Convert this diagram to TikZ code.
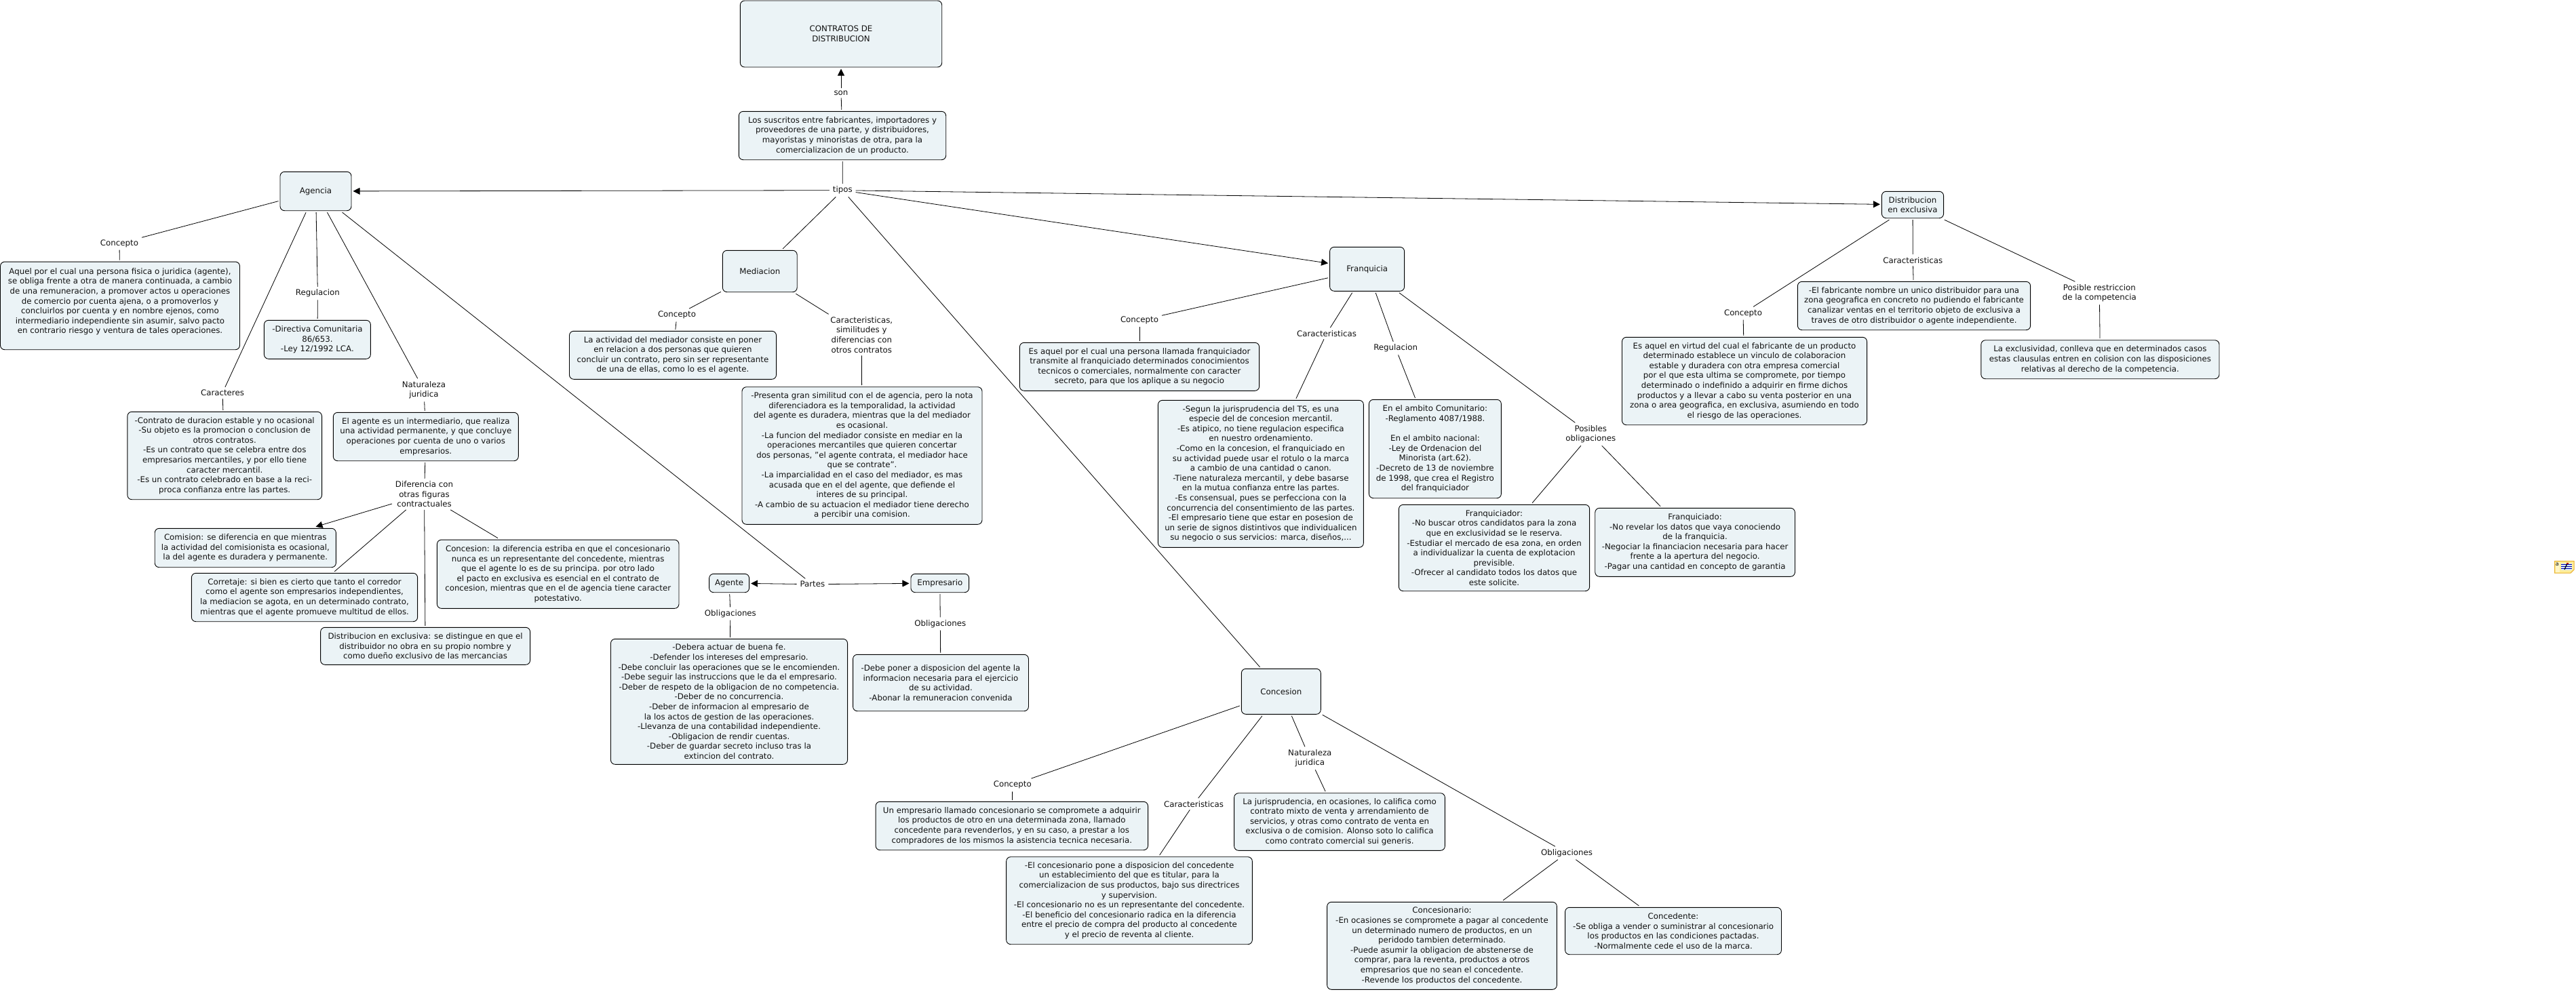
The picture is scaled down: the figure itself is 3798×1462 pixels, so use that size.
\documentclass[tikz,border=0pt]{standalone}
\usepackage{fontspec}
\setmainfont{DejaVu Sans}
\usetikzlibrary{arrows.meta}
\definecolor{boxfill}{HTML}{EBF3F6}
\definecolor{txt}{HTML}{111111}
\definecolor{notefill}{HTML}{FFEE99}
\definecolor{noteedge}{HTML}{E8B030}
\definecolor{notepale}{HTML}{FFF6C8}
\definecolor{notepage}{HTML}{D8E8F4}
\tikzset{
  box/.style={draw=black,line width=0.9pt,fill=boxfill,rounded corners=6.5pt,align=center,inner sep=0pt,outer sep=2.5pt,text=txt,font=\fontsize{11.8}{14.6}\selectfont},
  lbl/.style={align=center,inner xsep=5pt,inner ysep=4pt,outer sep=0pt,text=txt,font=\fontsize{11.8}{14.6}\selectfont},
  con/.style={line width=0.8pt},
  arr/.style={line width=0.8pt,-{Triangle[length=10pt,width=10pt]}}
}
\begin{document}
\begin{tikzpicture}[x=1pt,y=-1pt]
\useasboundingbox (0,0) rectangle (3798,1462);
% boxes
\node[box,minimum width=297.4pt,minimum height=98pt] (title) at (1240,50) {CONTRATOS DE\\DISTRIBUCION};
\node[box,minimum width=305.4pt,minimum height=71.4pt] (intro) at (1242,200) {Los suscritos entre fabricantes, importadores y\\proveedores de una parte, y distribuidores,\\mayoristas y minoristas de otra, para la\\comercializacion de un producto.};
\node[box,minimum width=105pt,minimum height=57.4pt] (agencia) at (465.5,282) {Agencia};
\node[box,minimum width=353pt,minimum height=129.7pt] (agconc) at (177,450.9) {Aquel por el cual una persona fisica o juridica (agente),\\se obliga frente a otra de manera continuada, a cambio\\de una remuneracion, a promover actos u operaciones\\de comercio por cuenta ajena, o a promoverlos y\\concluirlos por cuenta y en nombre ejenos, como\\intermediario independiente sin asumir, salvo pacto\\en contrario riesgo y ventura de tales operaciones.\\~};
\node[box,minimum width=157pt,minimum height=57pt] (agreg) at (467.9,500.8) {-Directiva Comunitaria\\86/653.\\-Ley 12/1992 LCA.};
\node[box,minimum width=286.7pt,minimum height=129.4pt] (agcar) at (331.2,672) {-Contrato de duracion estable y no ocasional\\-Su objeto es la promocion o conclusion de\\otros contratos.\\-Es un contrato que se celebra entre dos\\empresarios mercantiles, y por ello tiene\\caracter mercantil.\\-Es un contrato celebrado en base a la reci-\\proca confianza entre las partes.};
\node[box,minimum width=273pt,minimum height=71.4pt] (agnat) at (627.8,644) {El agente es un intermediario, que realiza\\una actividad permanente, y que concluye\\operaciones por cuenta de uno o varios\\empresarios.};
\node[box,minimum width=267.2pt,minimum height=57.4pt] (comision) at (361.8,808) {Comision: se diferencia en que mientras\\la actividad del comisionista es ocasional,\\la del agente es duradera y permanente.};
\node[box,minimum width=333.3pt,minimum height=71.4pt] (corretaje) at (449,881) {Corretaje: si bien es cierto que tanto el corredor\\como el agente son empresarios independientes,\\la mediacion se agota, en un determinado contrato,\\mientras que el agente promueve multitud de ellos.};
\node[box,minimum width=356.6pt,minimum height=101.3pt] (concdiff) at (822.7,846.7) {Concesion: la diferencia estriba en que el concesionario\\nunca es un representante del concedente, mientras\\que el agente lo es de su principa. por otro lado\\el pacto en exclusiva es esencial en el contrato de\\concesion, mientras que en el de agencia tiene caracter\\potestativo.};
\node[box,minimum width=309pt,minimum height=55pt] (distdiff) at (627.1,952.8) {Distribucion en exclusiva: se distingue en que el\\distribuidor no obra en su propio nombre y\\como dueño exclusivo de las mercancias};
\node[box,minimum width=59pt,minimum height=27.4pt] (agente) at (1075.1,860) {Agente};
\node[box,minimum width=85.7pt,minimum height=27.4pt] (empresario) at (1385.8,860) {Empresario};
\node[box,minimum width=349.1pt,minimum height=185pt] (agobl) at (1075,1034.8) {-Debera actuar de buena fe.\\-Defender los intereses del empresario.\\-Debe concluir las operaciones que se le encomienden.\\-Debe seguir las instruccions que le da el empresario.\\-Deber de respeto de la obligacion de no competencia.\\-Deber de no concurrencia.\\-Deber de informacion al empresario de\\la los actos de gestion de las operaciones.\\-Llevanza de una contabilidad independiente.\\-Obligacion de rendir cuentas.\\-Deber de guardar secreto incluso tras la\\extincion del contrato.};
\node[box,minimum width=258.9pt,minimum height=83.4pt] (empobl) at (1387,1007) {-Debe poner a disposicion del agente la\\informacion necesaria para el ejercicio\\de su actividad.\\-Abonar la remuneracion convenida};
\node[box,minimum width=109.8pt,minimum height=61.4pt] (mediacion) at (1120.3,400) {Mediacion};
\node[box,minimum width=305.1pt,minimum height=71pt] (medconc) at (992,523.8) {La actividad del mediador consiste en poner\\en relacion a dos personas que quieren\\concluir un contrato, pero sin ser representante\\de una de ellas, como lo es el agente.};
\node[box,minimum width=354pt,minimum height=202.6pt] (medcar) at (1271,672) {-Presenta gran similitud con el de agencia, pero la nota\\diferenciadora es la temporalidad, la actividad\\del agente es duradera, mientras que la del mediador\\es ocasional.\\-La funcion del mediador consiste en mediar en la\\operaciones mercantiles que quieren concertar\\dos personas, "el agente contrata, el mediador hace\\que se contrate".\\-La imparcialidad en el caso del mediador, es mas\\acusada que en el del agente, que defiende el\\interes de su principal.\\-A cambio de su actuacion el mediador tiene derecho\\a percibir una comision.};
\node[box,minimum width=110pt,minimum height=65pt] (franquicia) at (2015.6,396.8) {Franquicia};
\node[box,minimum width=353.3pt,minimum height=71pt] (frconc) at (1680,540.8) {Es aquel por el cual una persona llamada franquiciador\\transmite al franquiciado determinados conocimientos\\tecnicos o comerciales, normalmente con caracter\\secreto, para que los aplique a su negocio};
\node[box,minimum width=303pt,minimum height=217pt] (frcar) at (1858.9,698.8) {-Segun la jurisprudencia del TS, es una\\especie del de concesion mercantil.\\-Es atipico, no tiene regulacion especifica\\en nuestro ordenamiento.\\-Como en la concesion, el franquiciado en\\su actividad puede usar el rotulo o la marca\\a cambio de una cantidad o canon.\\-Tiene naturaleza mercantil, y debe basarse\\en la mutua confianza entre las partes.\\-Es consensual, pues se perfecciona con la\\concurrencia del consentimiento de las partes.\\-El empresario tiene que estar en posesion de\\un serie de signos distintivos que individualicen\\su negocio o sus servicios: marca, diseños,...};
\node[box,minimum width=195pt,minimum height=145.4pt] (frreg) at (2115.9,662) {En el ambito Comunitario:\\-Reglamento 4087/1988.\\~\\En el ambito nacional:\\-Ley de Ordenacion del\\Minorista (art.62).\\-Decreto de 13 de noviembre\\de 1998, que crea el Registro\\del franquiciador};
\node[box,minimum width=281.3pt,minimum height=127.4pt] (frdor) at (2203,808) {Franquiciador:\\-No buscar otros candidatos para la zona\\que en exclusividad se le reserva.\\-Estudiar el mercado de esa zona, en orden\\a individualizar la cuenta de explotacion\\previsible.\\-Ofrecer al candidato todos los datos que\\este solicite.};
\node[box,minimum width=294.7pt,minimum height=101pt] (frdo) at (2499.1,799.8) {Franquiciado:\\-No revelar los datos que vaya conociendo\\de la franquicia.\\-Negociar la financiacion necesaria para hacer\\frente a la apertura del negocio.\\-Pagar una cantidad en concepto de garantia};
\node[box,minimum width=91.2pt,minimum height=39.4pt] (distribucion) at (2820,302) {Distribucion\\en exclusiva};
\node[box,minimum width=343.3pt,minimum height=71.4pt] (dicar) at (2822,451) {-El fabricante nombre un unico distribuidor para una\\zona geografica en concreto no pudiendo el fabricante\\canalizar ventas en el territorio objeto de exclusiva a\\traves de otro distribuidor o agente independiente.};
\node[box,minimum width=361.1pt,minimum height=129.4pt] (diconc) at (2572,562) {Es aquel en virtud del cual el fabricante de un producto\\determinado establece un vinculo de colaboracion\\estable y duradera con otra empresa comercial\\por el que esta ultima se compromete, por tiempo\\determinado o indefinido a adquirir en firme dichos\\productos y a llevar a cabo su venta posterior en una\\zona o area geografica, en exclusiva, asumiendo en todo\\el riesgo de las operaciones.};
\node[box,minimum width=351.2pt,minimum height=57pt] (dires) at (3096.4,530.2) {La exclusividad, conlleva que en determinados casos\\estas clausulas entren en colision con las disposiciones\\relativas al derecho de la competencia.};
\node[box,minimum width=117pt,minimum height=67pt] (concesion) at (1888.8,1019.8) {Concesion};
\node[box,minimum width=401.5pt,minimum height=71.4pt] (coconc) at (1491.8,1218) {Un empresario llamado concesionario se compromete a adquirir\\los productos de otro en una determinada zona, llamado\\concedente para revenderlos, y en su caso, a prestar a los\\compradores de los mismos la asistencia tecnica necesaria.};
\node[box,minimum width=362.7pt,minimum height=129pt] (cocar) at (1665,1328.2) {-El concesionario pone a disposicion del concedente\\un establecimiento del que es titular, para la\\comercializacion de sus productos, bajo sus directrices\\y supervision.\\-El concesionario no es un representante del concedente.\\-El beneficio del concesionario radica en la diferencia\\entre el precio de compra del producto al concedente\\y el precio de reventa al cliente.};
\node[box,minimum width=310.8pt,minimum height=84.6pt] (conat) at (1975,1212) {La jurisprudencia, en ocasiones, lo califica como\\contrato mixto de venta y arrendamiento de\\servicios, y otras como contrato de venta en\\exclusiva o de comision. Alonso soto lo califica\\como contrato comercial sui generis.};
\node[box,minimum width=338.8pt,minimum height=129pt] (conario) at (2126,1394.8) {Concesionario:\\-En ocasiones se compromete a pagar al concedente\\un determinado numero de productos, en un\\peridodo tambien determinado.\\-Puede asumir la obligacion de abstenerse de\\comprar, para la reventa, productos a otros\\empresarios que no sean el concedente.\\-Revende los productos del concedente.};
\node[box,minimum width=318.9pt,minimum height=69.4pt] (codente) at (2467,1373) {Concedente:\\-Se obliga a vender o suministrar al concesionario\\los productos en las condiciones pactadas.\\-Normalmente cede el uso de la marca.};
% labels
\node[lbl] (son) at (1240,137) {son};
\node[lbl] (tipos) at (1242.3,280.7) {tipos};
\node[lbl] (l1) at (176,359) {Concepto};
\node[lbl] (l2) at (468.4,432.7) {Regulacion};
\node[lbl] (l3) at (328,579.3) {Caracteres};
\node[lbl] (l4) at (625,575.3) {Naturaleza\\juridica};
\node[lbl] (l5) at (625.5,728.7) {Diferencia con\\otras figuras\\contractuales};
\node[lbl] (partes) at (1197.9,861.7) {Partes};
\node[lbl] (l6) at (1076.9,905) {Obligaciones};
\node[lbl] (l7) at (1386.3,920) {Obligaciones};
\node[lbl] (l8) at (998,464.7) {Concepto};
\node[lbl] (l9) at (1270.3,493.8) {Caracteristicas,\\similitudes y\\diferencias con\\otros contratos};
\node[lbl] (l10) at (1680,472.7) {Concepto};
\node[lbl] (l11) at (1956,491.7) {Caracteristicas};
\node[lbl] (l12) at (2057.7,513.7) {Regulacion};
\node[lbl] (l13) at (2345.3,640.3) {Posibles\\obligaciones};
\node[lbl] (l14) at (2570,462) {Concepto};
\node[lbl] (l15) at (2820.3,383.7) {Caracteristicas};
\node[lbl] (l16) at (3095.3,432.3) {Posible restriccion\\de la competencia};
\node[lbl] (l17) at (1492.8,1157.7) {Concepto};
\node[lbl] (l18) at (1760,1185.7) {Caracteristicas};
\node[lbl] (l19) at (1931.3,1118.3) {Naturaleza\\juridica};
\node[lbl] (l20) at (2310,1258) {Obligaciones};
% connectors
\draw[con] (intro) -- (son);
\draw[arr] (son) -- (title);
\draw[con] (intro) -- (tipos);
\draw[arr] (tipos) -- (agencia);
\draw[arr] (tipos) -- (franquicia);
\draw[arr] (tipos) -- (distribucion);
\draw[con] (tipos) -- (mediacion);
\draw[con] (tipos) -- (concesion);
\draw[con] (agencia) -- (l1);
\draw[con] (l1) -- (agconc);
\draw[con] (agencia) -- (l2);
\draw[con] (l2) -- (agreg);
\draw[con] (agencia) -- (l3);
\draw[con] (l3) -- (agcar);
\draw[con] (agencia) -- (l4);
\draw[con] (l4) -- (agnat);
\draw[con] (agnat) -- (l5);
\draw[arr] (l5) -- (comision);
\draw[con] (l5) -- (corretaje);
\draw[con] (l5) -- (concdiff);
\draw[con] (l5) -- (distdiff);
\draw[con] (agencia) -- (partes);
\draw[arr] (partes) -- (agente);
\draw[arr] (partes) -- (empresario);
\draw[con] (agente) -- (l6);
\draw[con] (l6) -- (agobl);
\draw[con] (empresario) -- (l7);
\draw[con] (l7) -- (empobl);
\draw[con] (mediacion) -- (l8);
\draw[con] (l8) -- (medconc);
\draw[con] (mediacion) -- (l9);
\draw[con] (l9) -- (medcar);
\draw[con] (franquicia) -- (l10);
\draw[con] (l10) -- (frconc);
\draw[con] (franquicia) -- (l11);
\draw[con] (l11) -- (frcar);
\draw[con] (franquicia) -- (l12);
\draw[con] (l12) -- (frreg);
\draw[con] (franquicia) -- (l13);
\draw[con] (l13) -- (frdor);
\draw[con] (l13) -- (frdo);
\draw[con] (distribucion) -- (l14);
\draw[con] (l14) -- (diconc);
\draw[con] (distribucion) -- (l15);
\draw[con] (l15) -- (dicar);
\draw[con] (distribucion) -- (l16);
\draw[con] (l16) -- (dires);
\draw[con] (concesion) -- (l17);
\draw[con] (l17) -- (coconc);
\draw[con] (concesion) -- (l18);
\draw[con] (l18) -- (cocar);
\draw[con] (concesion) -- (l19);
\draw[con] (l19) -- (conat);
\draw[con] (concesion) -- (l20);
\draw[con] (l20) -- (conario);
\draw[con] (l20) -- (codente);
% small note icon at right edge
\fill[notefill,draw=noteedge,line width=1pt] (3766.5,827.5) -- (3795,827.5) -- (3795,840) -- (3790,845) -- (3766.5,845) -- cycle;
\fill[notepale] (3767.5,828.5) rectangle (3773.5,844);
\node[inner sep=0pt,font=\fontsize{8}{8}\selectfont] (iconchar) at (3770.3,832.5) {a};
\fill[notepage] (3776,830.5) rectangle (3792,841);
\foreach \yy in {832,835,838}{\draw[blue!70!black,line width=0.5pt] (3776,\yy) -- (3792,\yy);}
\draw[black,line width=1.3pt] (3781,840) -- (3785,831);
\fill[red!70!black] (3784,829.5) rectangle (3786.5,832);
\end{tikzpicture}
\end{document}
